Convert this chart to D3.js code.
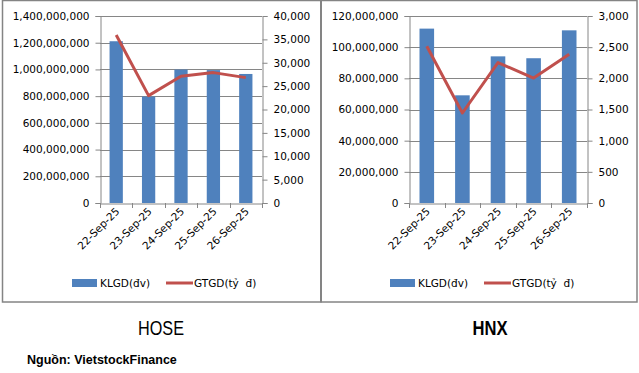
<!DOCTYPE html>
<html><head><meta charset="utf-8">
<script src="https://cdn.jsdelivr.net/npm/d3@7"></script>
<style>
html,body{margin:0;padding:0;background:#fff;}
svg{display:block;}
</style>
</head><body>
<svg id="c" width="639" height="373"></svg>
<script>
const dates = ["22-Sep-25","23-Sep-25","24-Sep-25","25-Sep-25","26-Sep-25"];
const hoseVolume = [1211000000, 797000000, 999000000, 995000000, 966000000];
const hoseValue = [35940, 22970, 27100, 27890, 26820];
const hnxVolume = [111900000, 69100000, 94100000, 92900000, 110800000];
const hnxValue = [2514, 1444, 2252, 2005, 2385];
const hoseLeftTicks = [0,200000000,400000000,600000000,800000000,1000000000,1200000000,1400000000];
const hoseRightTicks = [0,5000,10000,15000,20000,25000,30000,35000,40000];
const hnxLeftTicks = [0,20000000,40000000,60000000,80000000,100000000,120000000];
const hnxRightTicks = [0,500,1000,1500,2000,2500,3000];
const seriesNames = ["KLGD(đv)", "GTGD(tỷ  đ)"];
const titles = ["HOSE", "HNX"];
const source = "Nguồn: VietstockFinance";

const svg = d3.select("#c");
const BAR = "#4F81BD", LINE = "#C0504D", GRID = "#868686", BORDER = "#848484";
const FONT = "DejaVu Sans, Verdana, sans-serif";
const fmt = d3.format(",");

// frames
svg.append("rect").attr("x",2.5).attr("y",0.5).attr("width",634.5).attr("height",301.5)
  .attr("fill","none").attr("stroke",BORDER).attr("stroke-width",1.5);
svg.append("line").attr("x1",321).attr("x2",321).attr("y1",0).attr("y2",302.5)
  .attr("stroke",BORDER).attr("stroke-width",2);

function panel(cfg){
  const g = svg.append("g");
  const x = d3.scaleBand().domain(dates).range([cfg.x0, cfg.x1]).paddingInner(0).paddingOuter(0);
  const yL = d3.scaleLinear().domain([0, cfg.leftTicks[cfg.leftTicks.length-1]]).range([203, 16]);
  const yR = d3.scaleLinear().domain([0, cfg.rightTicks[cfg.rightTicks.length-1]]).range([203, 16]);

  // gridlines
  g.selectAll(".grid").data(cfg.leftTicks.slice(1)).join("line")
    .attr("x1",cfg.x0).attr("x2",cfg.x1)
    .attr("y1",d=>Math.round(yL(d))+0.5).attr("y2",d=>Math.round(yL(d))+0.5)
    .attr("stroke",GRID).attr("stroke-width",1);

  // bars
  const bw = x.bandwidth()*0.41;
  g.selectAll(".bar").data(cfg.volume).join("rect")
    .attr("x",(d,i)=>x(dates[i]) + (x.bandwidth()-bw)/2)
    .attr("width",bw)
    .attr("y",d=>yL(d)).attr("height",d=>yL(0)-yL(d))
    .attr("fill",BAR);

  // line
  const line = d3.line().x((d,i)=>x(dates[i])+x.bandwidth()/2).y(d=>yR(d));
  g.append("path").datum(cfg.value).attr("d",line)
    .attr("fill","none").attr("stroke",LINE).attr("stroke-width",3).attr("stroke-linejoin","round");

  // axes
  const la = d3.axisLeft(yL).tickValues(cfg.leftTicks).tickFormat(fmt).tickSize(5).tickPadding(6);
  const lg = g.append("g").attr("transform",`translate(${cfg.x0+0.5},0)`).call(la);
  const ra = d3.axisRight(yR).tickValues(cfg.rightTicks).tickFormat(fmt).tickSize(5).tickPadding(6);
  const rg = g.append("g").attr("transform",`translate(${cfg.x1+0.5},0)`).call(ra);
  [lg,rg].forEach(a=>{
    a.select(".domain").attr("stroke",GRID);
    a.selectAll(".tick line").attr("stroke",GRID);
    a.selectAll("text").attr("font-family",FONT).attr("font-size","10.5px").attr("fill","#000");
  });

  const xa = d3.axisBottom(x).tickSize(0).tickFormat("");
  const xg = g.append("g").attr("transform","translate(0,203.5)").call(xa);
  xg.select(".domain").attr("stroke",GRID);
  const bounds = dates.map(d=>x(d)).concat([cfg.x1]);
  g.selectAll(".xt").data(bounds).join("line")
    .attr("x1",d=>Math.round(d)+0.5).attr("x2",d=>Math.round(d)+0.5)
    .attr("y1",203).attr("y2",208).attr("stroke",GRID);
  g.selectAll(".xl").data(dates).join("text")
    .attr("transform",d=>`translate(${x(d)+x.bandwidth()/2+4},${212}) rotate(-45)`)
    .attr("text-anchor","end").attr("font-family",FONT).attr("font-size","10.5px").attr("fill","#000")
    .text(d=>d);

  // legend
  const ly = 283;
  g.append("rect").attr("x",cfg.legX).attr("y",ly-4).attr("width",25).attr("height",8).attr("fill",BAR);
  g.append("text").attr("x",cfg.legX+28).attr("y",ly+4).attr("font-family",FONT).attr("font-size","10.5px").text(seriesNames[0]);
  g.append("line").attr("x1",cfg.legX+94).attr("x2",cfg.legX+121).attr("y1",ly).attr("y2",ly)
    .attr("stroke",LINE).attr("stroke-width",3);
  g.append("text").attr("x",cfg.legX+122).attr("y",ly+4).attr("font-family",FONT).attr("font-size","10.5px")
    .style("white-space","pre").text(seriesNames[1]);

  // title
  svg.append("text").attr("x",cfg.titleX - cfg.titleW/2).attr("y",335)
    .attr("font-family","Liberation Sans, Arial, sans-serif").attr("font-size","20px")
    .attr("textLength",cfg.titleW).attr("lengthAdjust","spacingAndGlyphs")
    .attr("font-weight",cfg.bold?"bold":"normal").attr("fill","#000").text(cfg.title);
}

panel({x0:100, x1:262, leftTicks:hoseLeftTicks, rightTicks:hoseRightTicks, volume:hoseVolume, value:hoseValue, legX:72, title:titles[0], titleX:161, titleW:46, bold:false});
panel({x0:409, x1:587, leftTicks:hnxLeftTicks, rightTicks:hnxRightTicks, volume:hnxVolume, value:hnxValue, legX:390, title:titles[1], titleX:490, titleW:35, bold:true});

svg.append("text").attr("x",27).attr("y",364).attr("font-family","Liberation Sans, Arial, sans-serif")
  .attr("font-size","12.5px").attr("font-weight","bold").attr("fill","#000").text(source);
</script>
</body></html>
